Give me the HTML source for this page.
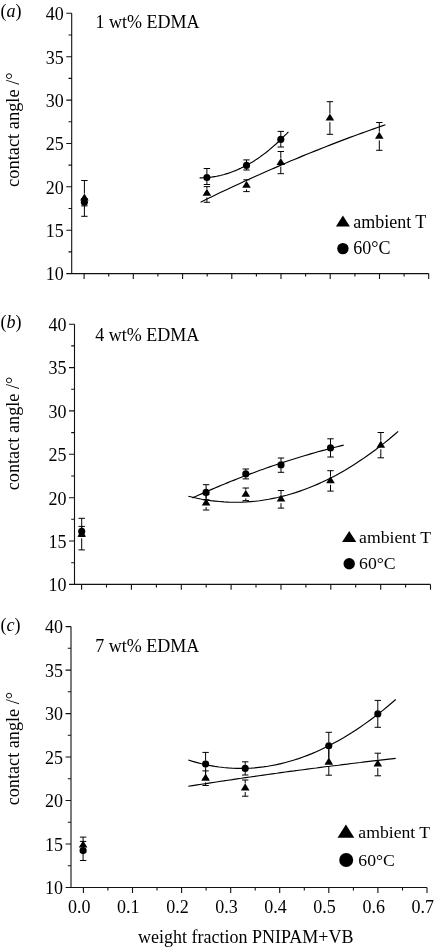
<!DOCTYPE html>
<html lang="en"><head><meta charset="utf-8"><title>Contact angle vs weight fraction PNIPAM+VB</title>
<style>html,body{margin:0;padding:0;background:#fff}svg{display:block}text{font-family:"Liberation Serif",serif;fill:#000}</style></head><body>
<svg width="436" height="948" viewBox="0 0 436 948">
<rect width="436" height="948" fill="#fff"/>
<path d="M71.7 13.3V273.6H428.7M66.3 13.3H71.7M68.5 35.0H71.7M66.3 56.7H71.7M68.5 78.4H71.7M66.3 100.1H71.7M68.5 121.8H71.7M66.3 143.5H71.7M68.5 165.1H71.7M66.3 186.8H71.7M68.5 208.5H71.7M66.3 230.2H71.7M68.5 251.9H71.7M66.3 273.6H71.7M66.3 273.6H71.7M84.1 273.6v5.4M108.7 273.6v3M133.3 273.6v5.4M157.9 273.6v3M182.6 273.6v5.4M207.2 273.6v3M231.8 273.6v5.4M256.4 273.6v3M281.0 273.6v5.4M305.6 273.6v3M330.2 273.6v5.4M354.9 273.6v3M379.5 273.6v5.4M404.1 273.6v3M428.7 273.6v5.4" fill="none" stroke="#111" stroke-width="1.1"/>
<text x="63.8" y="20.1" font-size="18" text-anchor="end">40</text>
<text x="63.8" y="63.5" font-size="18" text-anchor="end">35</text>
<text x="63.8" y="106.9" font-size="18" text-anchor="end">30</text>
<text x="63.8" y="150.3" font-size="18" text-anchor="end">25</text>
<text x="63.8" y="193.6" font-size="18" text-anchor="end">20</text>
<text x="63.8" y="237.0" font-size="18" text-anchor="end">15</text>
<text x="63.8" y="280.4" font-size="18" text-anchor="end">10</text>
<text x="0.6" y="16.9" font-size="18">(<tspan font-style="italic">a</tspan>)</text>
<text x="95.6" y="27.8" font-size="18">1 wt% EDMA</text>
<text transform="translate(19 186.9) rotate(-90)" font-size="18.4">contact angle /°</text>
<path d="M199.6 177.9L201.5 177.9L203.4 177.8L205.3 177.7L207.2 177.6L209.0 177.4L210.9 177.2L212.8 176.9L214.7 176.6L216.6 176.3L218.5 175.9L220.4 175.5L222.3 175.0L224.2 174.5L226.1 173.9L227.9 173.4L229.8 172.7L231.7 172.0L233.6 171.3L235.5 170.6L237.4 169.8L239.3 168.9L241.2 168.1L243.1 167.1L244.9 166.2L246.8 165.1L248.7 164.1L250.6 163.0L252.5 161.9L254.4 160.7L256.3 159.4L258.2 158.2L260.1 156.9L261.9 155.5L263.8 154.1L265.7 152.7L267.6 151.2L269.5 149.6L271.4 148.0L273.3 146.4L275.2 144.8L277.1 143.0L279.0 141.3L280.8 139.5L282.7 137.6L284.6 135.7L286.5 133.8L288.4 131.8" fill="none" stroke="#000" stroke-width="1.15"/>
<path d="M200.6 202.2L204.5 200.3L208.5 198.3L212.4 196.4L216.3 194.5L220.3 192.6L224.2 190.8L228.1 188.9L232.1 187.1L236.0 185.2L239.9 183.4L243.9 181.6L247.8 179.8L251.7 178.0L255.6 176.2L259.6 174.5L263.5 172.7L267.4 171.0L271.4 169.3L275.3 167.6L279.2 165.9L283.2 164.2L287.1 162.5L291.0 160.8L295.0 159.2L298.9 157.6L302.8 155.9L306.8 154.3L310.7 152.7L314.6 151.1L318.6 149.6L322.5 148.0L326.4 146.5L330.4 144.9L334.3 143.4L338.2 141.9L342.1 140.4L346.1 138.9L350.0 137.4L353.9 136.0L357.9 134.5L361.8 133.1L365.7 131.7L369.7 130.3L373.6 128.9L377.5 127.5L381.5 126.1L385.4 124.7" fill="none" stroke="#000" stroke-width="1.15"/>
<path d="M81.2 180.5h6.4M81.2 216.3h6.4M84.4 180.5V193.5M84.4 202.1V216.3" fill="none" stroke="#000" stroke-width="1"/>
<path d="M203.7 186.6h6.4M203.7 202.3h6.4M206.9 186.6V188.8M206.9 197.4V202.3" fill="none" stroke="#000" stroke-width="1"/>
<path d="M243.3 179.8h6.4M243.3 191.6h6.4M246.5 179.8V180.8M246.5 189.4V191.6" fill="none" stroke="#000" stroke-width="1"/>
<path d="M277.6 151.5h6.4M277.6 173.7h6.4M280.8 151.5V158.0M280.8 166.6V173.7" fill="none" stroke="#000" stroke-width="1"/>
<path d="M326.7 101.7h6.4M326.7 134.3h6.4M329.9 101.7V113.6M329.9 122.2V134.3" fill="none" stroke="#000" stroke-width="1"/>
<path d="M376.1 122.5h6.4M376.1 150.3h6.4M379.3 122.5V131.8M379.3 140.4V150.3" fill="none" stroke="#000" stroke-width="1"/>
<path d="M81.2 198.5h6.4M81.2 205.9h6.4M84.4 198.5V198.9M84.4 205.5V205.9" fill="none" stroke="#000" stroke-width="1"/>
<path d="M203.7 168.5h6.4M203.7 184.5h6.4M206.9 168.5V174.2M206.9 180.8V184.5" fill="none" stroke="#000" stroke-width="1"/>
<path d="M243.3 159.9h6.4M243.3 170.0h6.4M246.5 159.9V162.1M246.5 168.7V170.0" fill="none" stroke="#000" stroke-width="1"/>
<path d="M277.6 131.4h6.4M277.6 147.0h6.4M280.8 131.4V136.1M280.8 142.7V147.0" fill="none" stroke="#000" stroke-width="1"/>
<circle cx="84.4" cy="202.2" r="3.55" fill="#000"/>
<circle cx="206.9" cy="177.5" r="3.55" fill="#000"/>
<circle cx="246.5" cy="165.4" r="3.55" fill="#000"/>
<circle cx="280.8" cy="139.4" r="3.55" fill="#000"/>
<path d="M84.4 193.4L88.7 200.5L80.1 200.5Z" fill="#000"/>
<path d="M206.9 188.7L211.2 195.8L202.6 195.8Z" fill="#000"/>
<path d="M246.5 180.7L250.8 187.8L242.2 187.8Z" fill="#000"/>
<path d="M280.8 157.9L285.1 165.0L276.5 165.0Z" fill="#000"/>
<path d="M329.9 113.5L334.2 120.6L325.6 120.6Z" fill="#000"/>
<path d="M379.3 131.7L383.6 138.8L375.0 138.8Z" fill="#000"/>
<path d="M342.9 215.6L349.9 226.6L335.9 226.6Z" fill="#000"/>
<text x="353.2" y="227.8" font-size="18">ambient T</text>
<circle cx="342.9" cy="248.6" r="5.7" fill="#000"/>
<text x="353.2" y="253.8" font-size="18">60°C</text>
<path d="M74.5 324.2V584.4H430.5M69.0 324.2H74.5M71.2 345.9H74.5M69.0 367.6H74.5M71.2 389.2H74.5M69.0 410.9H74.5M71.2 432.6H74.5M69.0 454.3H74.5M71.2 476.0H74.5M69.0 497.7H74.5M71.2 519.3H74.5M69.0 541.0H74.5M71.2 562.7H74.5M69.0 584.4H74.5M69.0 584.4H74.5M81.6 584.4v5.4M106.5 584.4v3M131.4 584.4v5.4M156.4 584.4v3M181.3 584.4v5.4M206.2 584.4v3M231.1 584.4v5.4M256.0 584.4v3M281.0 584.4v5.4M305.9 584.4v3M330.8 584.4v5.4M355.7 584.4v3M380.7 584.4v5.4M405.6 584.4v3M430.5 584.4v5.4" fill="none" stroke="#111" stroke-width="1.1"/>
<text x="66.5" y="331.0" font-size="18" text-anchor="end">40</text>
<text x="66.5" y="374.4" font-size="18" text-anchor="end">35</text>
<text x="66.5" y="417.7" font-size="18" text-anchor="end">30</text>
<text x="66.5" y="461.1" font-size="18" text-anchor="end">25</text>
<text x="66.5" y="504.5" font-size="18" text-anchor="end">20</text>
<text x="66.5" y="547.8" font-size="18" text-anchor="end">15</text>
<text x="66.5" y="591.2" font-size="18" text-anchor="end">10</text>
<text x="0.6" y="327.8" font-size="18">(<tspan font-style="italic">b</tspan>)</text>
<text x="95.2" y="341.3" font-size="18">4 wt% EDMA</text>
<text transform="translate(19 490.3) rotate(-90)" font-size="18.25">contact angle /°</text>
<path d="M192.4 497.9L195.6 496.5L198.8 495.0L202.1 493.6L205.3 492.2L208.5 490.8L211.7 489.4L214.9 488.0L218.2 486.6L221.4 485.3L224.6 484.0L227.8 482.6L231.0 481.3L234.2 480.1L237.5 478.8L240.7 477.5L243.9 476.3L247.1 475.1L250.3 473.9L253.6 472.7L256.8 471.5L260.0 470.3L263.2 469.2L266.4 468.0L269.7 466.9L272.9 465.8L276.1 464.7L279.3 463.6L282.5 462.6L285.8 461.5L289.0 460.5L292.2 459.5L295.4 458.5L298.6 457.5L301.9 456.5L305.1 455.5L308.3 454.6L311.5 453.6L314.7 452.7L317.9 451.8L321.2 450.9L324.4 450.1L327.6 449.2L330.8 448.4L334.0 447.5L337.3 446.7L340.5 445.9L343.7 445.1" fill="none" stroke="#000" stroke-width="1.15"/>
<path d="M188.3 496.3L192.8 497.3L197.2 498.3L201.7 499.2L206.2 499.9L210.6 500.6L215.1 501.1L219.6 501.5L224.0 501.9L228.5 502.1L233.0 502.2L237.4 502.2L241.9 502.1L246.4 501.9L250.8 501.6L255.3 501.2L259.8 500.7L264.2 500.0L268.7 499.3L273.2 498.4L277.6 497.5L282.1 496.4L286.6 495.3L291.0 494.0L295.5 492.6L299.9 491.1L304.4 489.5L308.9 487.8L313.3 486.0L317.8 484.1L322.3 482.1L326.7 480.0L331.2 477.7L335.7 475.4L340.1 472.9L344.6 470.4L349.1 467.7L353.5 465.0L358.0 462.1L362.5 459.1L366.9 456.0L371.4 452.8L375.9 449.5L380.3 446.1L384.8 442.6L389.3 439.0L393.7 435.2L398.2 431.4" fill="none" stroke="#000" stroke-width="1.15"/>
<path d="M78.5 518.3h6.4M78.5 549.9h6.4M81.7 518.3V529.7M81.7 538.3V549.9" fill="none" stroke="#000" stroke-width="1"/>
<path d="M202.9 494.6h6.4M202.9 510.0h6.4M206.1 494.6V498.5M206.1 507.1V510.0" fill="none" stroke="#000" stroke-width="1"/>
<path d="M242.6 488.0h6.4M242.6 500.6h6.4M245.8 488.0V489.8M245.8 498.4V500.6" fill="none" stroke="#000" stroke-width="1"/>
<path d="M277.8 490.5h6.4M277.8 508.1h6.4M281.0 490.5V494.6M281.0 503.2V508.1" fill="none" stroke="#000" stroke-width="1"/>
<path d="M327.3 470.7h6.4M327.3 491.1h6.4M330.5 470.7V476.2M330.5 484.8V491.1" fill="none" stroke="#000" stroke-width="1"/>
<path d="M377.6 432.5h6.4M377.6 457.8h6.4M380.8 432.5V440.7M380.8 449.3V457.8" fill="none" stroke="#000" stroke-width="1"/>
<path d="M78.5 526.4h6.4M78.5 536.5h6.4M81.7 526.4V528.1M81.7 534.7V536.5" fill="none" stroke="#000" stroke-width="1"/>
<path d="M202.9 484.7h6.4M202.9 499.8h6.4M206.1 484.7V489.1M206.1 495.7V499.8" fill="none" stroke="#000" stroke-width="1"/>
<path d="M242.6 469.0h6.4M242.6 478.9h6.4M245.8 469.0V470.6M245.8 477.2V478.9" fill="none" stroke="#000" stroke-width="1"/>
<path d="M277.8 458.0h6.4M277.8 472.3h6.4M281.0 458.0V461.6M281.0 468.2V472.3" fill="none" stroke="#000" stroke-width="1"/>
<path d="M327.3 438.8h6.4M327.3 457.0h6.4M330.5 438.8V444.6M330.5 451.2V457.0" fill="none" stroke="#000" stroke-width="1"/>
<circle cx="81.7" cy="531.4" r="3.55" fill="#000"/>
<circle cx="206.1" cy="492.4" r="3.55" fill="#000"/>
<circle cx="245.8" cy="473.9" r="3.55" fill="#000"/>
<circle cx="281.0" cy="464.9" r="3.55" fill="#000"/>
<circle cx="330.5" cy="447.9" r="3.55" fill="#000"/>
<path d="M81.7 529.6L86.0 536.7L77.4 536.7Z" fill="#000"/>
<path d="M206.1 498.4L210.4 505.5L201.8 505.5Z" fill="#000"/>
<path d="M245.8 489.7L250.1 496.8L241.5 496.8Z" fill="#000"/>
<path d="M281.0 494.5L285.3 501.6L276.7 501.6Z" fill="#000"/>
<path d="M330.5 476.1L334.8 483.2L326.2 483.2Z" fill="#000"/>
<path d="M380.8 440.6L385.1 447.7L376.5 447.7Z" fill="#000"/>
<path d="M349.2 530.9L356.3 541.9L342.1 541.9Z" fill="#000"/>
<text x="359.1" y="542.6" font-size="17.7">ambient T</text>
<circle cx="349.2" cy="563.7" r="5.7" fill="#000"/>
<text x="359.1" y="569.2" font-size="17.7">60°C</text>
<path d="M71.0 626.6V887.5H427.0M65.6 626.6H71.0M67.8 648.3H71.0M65.6 670.1H71.0M67.8 691.8H71.0M65.6 713.6H71.0M67.8 735.3H71.0M65.6 757.0H71.0M67.8 778.8H71.0M65.6 800.5H71.0M67.8 822.3H71.0M65.6 844.0H71.0M67.8 865.8H71.0M65.6 887.5H71.0M65.6 887.5H71.0M83.4 887.5v5.4M107.9 887.5v3M132.5 887.5v5.4M157.0 887.5v3M181.6 887.5v5.4M206.1 887.5v3M230.7 887.5v5.4M255.2 887.5v3M279.7 887.5v5.4M304.3 887.5v3M328.8 887.5v5.4M353.4 887.5v3M377.9 887.5v5.4M402.5 887.5v3M427.0 887.5v5.4" fill="none" stroke="#111" stroke-width="1.1"/>
<text x="63.1" y="633.4" font-size="18" text-anchor="end">40</text>
<text x="63.1" y="676.9" font-size="18" text-anchor="end">35</text>
<text x="63.1" y="720.4" font-size="18" text-anchor="end">30</text>
<text x="63.1" y="763.8" font-size="18" text-anchor="end">25</text>
<text x="63.1" y="807.3" font-size="18" text-anchor="end">20</text>
<text x="63.1" y="850.8" font-size="18" text-anchor="end">15</text>
<text x="63.1" y="894.3" font-size="18" text-anchor="end">10</text>
<text x="79.2" y="913.0" font-size="18" text-anchor="middle">0.0</text>
<text x="128.3" y="913.0" font-size="18" text-anchor="middle">0.1</text>
<text x="177.4" y="913.0" font-size="18" text-anchor="middle">0.2</text>
<text x="226.5" y="913.0" font-size="18" text-anchor="middle">0.3</text>
<text x="275.5" y="913.0" font-size="18" text-anchor="middle">0.4</text>
<text x="324.6" y="913.0" font-size="18" text-anchor="middle">0.5</text>
<text x="373.7" y="913.0" font-size="18" text-anchor="middle">0.6</text>
<text x="422.8" y="913.0" font-size="18" text-anchor="middle">0.7</text>
<text x="0.6" y="631.2" font-size="18">(<tspan font-style="italic">c</tspan>)</text>
<text x="95.2" y="651.5" font-size="18">7 wt% EDMA</text>
<text transform="translate(19 805.3) rotate(-90)" font-size="18.2">contact angle /°</text>
<path d="M188.3 760.0L192.7 761.4L197.1 762.6L201.5 763.7L206.0 764.7L210.4 765.6L214.8 766.4L219.2 767.0L223.6 767.5L228.0 767.9L232.4 768.2L236.8 768.4L241.3 768.4L245.7 768.3L250.1 768.2L254.5 767.9L258.9 767.4L263.3 766.9L267.7 766.3L272.1 765.5L276.6 764.6L281.0 763.6L285.4 762.5L289.8 761.3L294.2 760.0L298.6 758.6L303.0 757.0L307.4 755.4L311.9 753.6L316.3 751.7L320.7 749.7L325.1 747.6L329.5 745.4L333.9 743.1L338.3 740.7L342.7 738.2L347.2 735.5L351.6 732.8L356.0 729.9L360.4 727.0L364.8 723.9L369.2 720.7L373.6 717.5L378.0 714.1L382.5 710.6L386.9 707.0L391.3 703.3L395.7 699.5" fill="none" stroke="#000" stroke-width="1.15"/>
<path d="M188.3 786.3L192.7 785.6L197.1 784.9L201.5 784.2L206.0 783.6L210.4 782.9L214.8 782.2L219.2 781.5L223.6 780.9L228.0 780.2L232.4 779.6L236.8 778.9L241.3 778.3L245.7 777.6L250.1 777.0L254.5 776.4L258.9 775.7L263.3 775.1L267.7 774.5L272.1 773.9L276.6 773.3L281.0 772.6L285.4 772.0L289.8 771.4L294.2 770.9L298.6 770.3L303.0 769.7L307.4 769.1L311.9 768.5L316.3 768.0L320.7 767.4L325.1 766.8L329.5 766.3L333.9 765.7L338.3 765.2L342.7 764.6L347.2 764.1L351.6 763.5L356.0 763.0L360.4 762.5L364.8 761.9L369.2 761.4L373.6 760.9L378.0 760.4L382.5 759.9L386.9 759.4L391.3 758.9L395.7 758.4" fill="none" stroke="#000" stroke-width="1.15"/>
<path d="M79.9 841.4h6.4M79.9 852.0h6.4M83.1 849.1V852.0" fill="none" stroke="#000" stroke-width="1"/>
<path d="M202.4 770.9h6.4M202.4 785.5h6.4M205.6 770.9V773.7M205.6 782.3V785.5" fill="none" stroke="#000" stroke-width="1"/>
<path d="M242.0 780.0h6.4M242.0 796.2h6.4M245.2 780.0V783.4M245.2 792.0V796.2" fill="none" stroke="#000" stroke-width="1"/>
<path d="M325.6 746.0h6.4M325.6 775.2h6.4M328.8 746.0V757.7M328.8 766.3V775.2" fill="none" stroke="#000" stroke-width="1"/>
<path d="M374.6 753.2h6.4M374.6 775.8h6.4M377.8 753.2V759.5M377.8 768.1V775.8" fill="none" stroke="#000" stroke-width="1"/>
<path d="M79.9 837.1h6.4M79.9 860.5h6.4M83.1 837.1V847.3M83.1 853.9V860.5" fill="none" stroke="#000" stroke-width="1"/>
<path d="M202.4 752.4h6.4M202.4 779.0h6.4M205.6 752.4V760.8M205.6 767.4V779.0" fill="none" stroke="#000" stroke-width="1"/>
<path d="M242.0 761.8h6.4M242.0 775.0h6.4M245.2 761.8V765.1M245.2 771.7V775.0" fill="none" stroke="#000" stroke-width="1"/>
<path d="M325.6 732.3h6.4M325.6 763.2h6.4M328.8 732.3V742.5M328.8 749.1V763.2" fill="none" stroke="#000" stroke-width="1"/>
<path d="M374.6 700.4h6.4M374.6 727.3h6.4M377.8 700.4V710.6M377.8 717.2V727.3" fill="none" stroke="#000" stroke-width="1"/>
<circle cx="83.1" cy="850.6" r="3.55" fill="#000"/>
<circle cx="205.6" cy="764.1" r="3.55" fill="#000"/>
<circle cx="245.2" cy="768.4" r="3.55" fill="#000"/>
<circle cx="328.8" cy="745.8" r="3.55" fill="#000"/>
<circle cx="377.8" cy="713.9" r="3.55" fill="#000"/>
<path d="M83.1 840.4L87.4 847.5L78.8 847.5Z" fill="#000"/>
<path d="M205.6 773.6L209.9 780.7L201.3 780.7Z" fill="#000"/>
<path d="M245.2 783.3L249.5 790.4L240.9 790.4Z" fill="#000"/>
<path d="M328.8 757.6L333.1 764.7L324.5 764.7Z" fill="#000"/>
<path d="M377.8 759.4L382.1 766.5L373.5 766.5Z" fill="#000"/>
<path d="M345.9 824.4L354.3 837.8L337.5 837.8Z" fill="#000"/>
<text x="358.3" y="838.4" font-size="17.7">ambient T</text>
<circle cx="346.2" cy="860.0" r="7.0" fill="#000"/>
<text x="358.3" y="865.7" font-size="17.7">60°C</text>
<text x="138" y="942.8" font-size="18">weight fraction PNIPAM+VB</text>
</svg></body></html>
